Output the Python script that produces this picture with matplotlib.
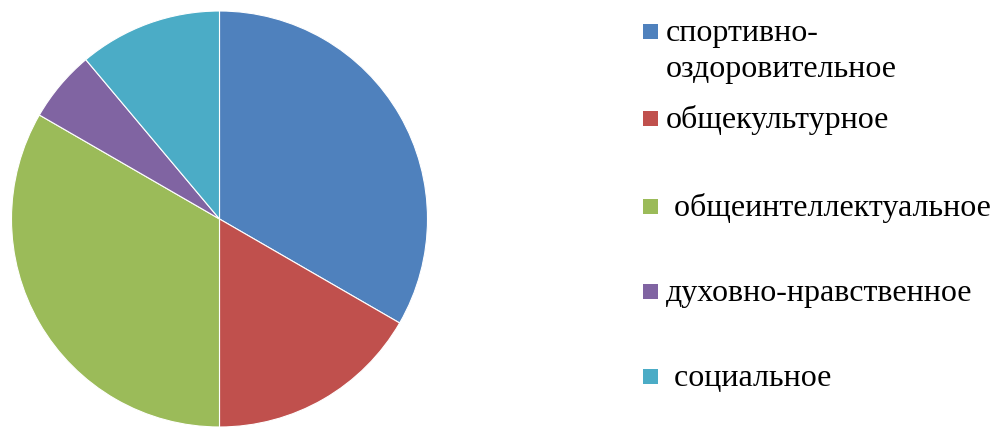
import matplotlib
matplotlib.use("Agg")
import matplotlib.pyplot as plt
from matplotlib.patches import Rectangle

# Направления внеурочной деятельности
labels = ["спортивно-\nоздоровительное", "общекультурное", " общеинтеллектуальное",
          "духовно-нравственное", " социальное"]
values = [6, 3, 6, 1, 2]
colors = ["#4F81BD", "#C0504D", "#9BBB59", "#8064A2", "#4BACC6"]

W, H = 994, 428
fig = plt.figure(figsize=(W / 100, H / 100), dpi=100)

# pie: centre ~ (219.5, 219) px, radius ~208 px
cx, cy, r = 219.5, 219, 208
ax = fig.add_axes([(cx - r) / W, (H - cy - r) / H, 2 * r / W, 2 * r / H])
ax.pie(values, colors=colors, startangle=90, counterclock=False, radius=1,
       wedgeprops=dict(edgecolor="white", linewidth=0.8))
ax.set_xlim(-1, 1)
ax.set_ylim(-1, 1)
ax.set_aspect("equal")
ax.axis("off")

# legend drawn by hand (pixel positions from the reference)
marker_y = [31, 118, 206, 291, 376]
box = 15
for lab, col, my in zip(labels, colors, marker_y):
    fig.add_artist(Rectangle(((643) / W, (H - my - box / 2) / H), box / W, box / H,
                             transform=fig.transFigure, facecolor=col, edgecolor="none"))
    lines = lab.split("\n")
    for i, line in enumerate(lines):
        base = my + 10 + i * 36
        fig.text(666 / W, (H - base) / H, line, fontsize=23, family="Liberation Serif",
                 va="baseline", ha="left", color="black")

fig.savefig("out.png", dpi=100)
